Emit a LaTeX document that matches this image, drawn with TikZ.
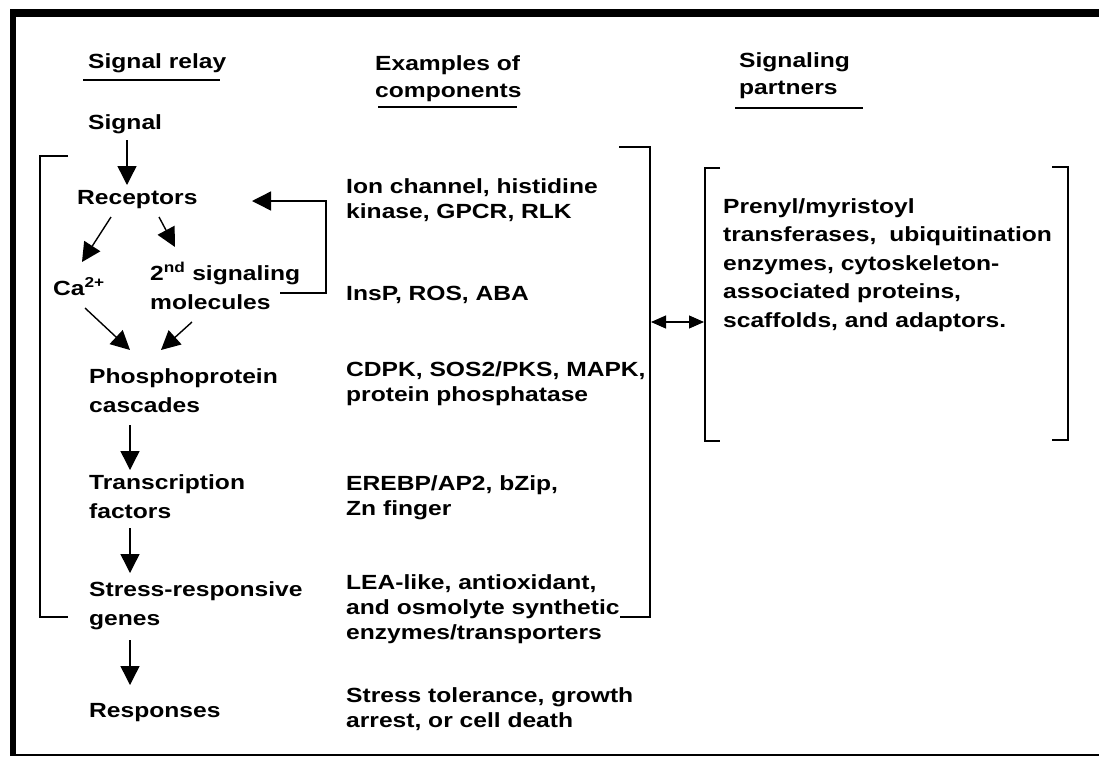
\documentclass[tikz,border=0pt]{standalone}
\usepackage{fontspec}
\setmainfont{Liberation Sans}[FakeStretch=1.2]
\usetikzlibrary{arrows.meta}
\begin{document}
\begin{tikzpicture}[x=1pt,y=-1pt,
  txt/.style={anchor=base west, inner sep=0pt, font=\bfseries\fontsize{20.5}{29}\selectfont},
  txtr/.style={anchor=base west, inner sep=0pt, font=\bfseries\fontsize{20.5}{25}\selectfont},
  txth/.style={anchor=base west, inner sep=0pt, font=\bfseries\fontsize{20.5}{27.5}\selectfont},
  arr/.style={line width=1.4pt, -{Triangle[length=19pt,width=19pt]}},
  dblarr/.style={line width=1.1pt, {Triangle[length=15pt,width=13pt]}-{Triangle[length=15pt,width=13pt]}},
  uline/.style={line width=1.8pt},
  brk/.style={line width=2pt}]
\useasboundingbox (0,0) rectangle (1099,756);
% frame
\fill (10,9) rectangle (1099,17);
\fill (10,9) rectangle (16,756);
\fill (10,753.5) rectangle (1099,756);
% headers
\node[txt] (h1) at (88,68) {Signal relay};
\node[txth] (h2) at (375,70) {\vtop{\hbox{Examples of}\hbox{components}}};
\node[txth] (h3) at (739,67) {\vtop{\hbox{Signaling}\hbox{partners}}};
\draw[uline] ([shift={(-5,12)}]h1.base west) -- ([shift={(132,12)}]h1.base west);
\draw[uline] ([shift={(3,37)}]h2.base west) -- ([shift={(142,37)}]h2.base west);
\draw[uline] ([shift={(-4,41)}]h3.base west) -- ([shift={(124,41)}]h3.base west);
% left column
\node[txt] (sig) at (88,129) {Signal};
\node[txt] (rec) at (77,204) {Receptors};
\node[txt] (ca) at (53,295) {Ca\textsuperscript{2+}};
\node[txt] (snd) at (150,280) {\vtop{\hbox{2\textsuperscript{nd} signaling}\hbox{molecules}}};
\node[txt] (pho) at (89,383) {\vtop{\hbox{Phosphoprotein}\hbox{cascades}}};
\node[txt] (tf) at (89,489) {\vtop{\hbox{Transcription}\hbox{factors}}};
\node[txt] (srg) at (89,596) {\vtop{\hbox{Stress-responsive}\hbox{genes}}};
\node[txt] (resp) at (89,717) {Responses};
% middle column
\node[txtr] (c1) at (346,193) {\vtop{\hbox{Ion channel, histidine}\hbox{kinase, GPCR, RLK}}};
\node[txtr] (c2) at (346,300) {InsP, ROS, ABA};
\node[txtr] (c3) at (346,376) {\vtop{\hbox{CDPK, SOS2/PKS, MAPK,}\hbox{protein phosphatase}}};
\node[txtr] (c4) at (346,490) {\vtop{\hbox{EREBP/AP2, bZip,}\hbox{Zn finger}}};
\node[txtr] (c5) at (346,589) {\vtop{\hbox{LEA-like, antioxidant,}\hbox{and osmolyte synthetic}\hbox{enzymes/transporters}}};
\node[txtr] (c6) at (346,702) {\vtop{\hbox{Stress tolerance, growth}\hbox{arrest, or cell death}}};
% partners
\node[txt, font=\bfseries\fontsize{20.5}{28.5}\selectfont] (part) at (723,213) {\vtop{\hbox{Prenyl/myristoyl}\hbox{transferases,\hspace{13pt}ubiquitination}\hbox{enzymes, cytoskeleton-}\hbox{associated proteins,}\hbox{scaffolds, and adaptors.}}};
% arrows
\draw[arr] ([shift={(39,11)}]sig.base west) -- ([shift={(50,-19)}]rec.base west);
\draw[arr] ([shift={(34,13)}]rec.base west) -- ([shift={(29,-33)}]ca.base west);
\draw[arr] ([shift={(82,13)}]rec.base west) -- ([shift={(25,-33)}]snd.base west);
\draw[arr] ([shift={(32,13)}]ca.base west) -- ([shift={(41,-33)}]pho.base west);
\draw[arr] ([shift={(42,42)}]snd.base west) -- ([shift={(72,-33)}]pho.base west);
\draw[arr] ([shift={(130,13)}]snd.base west) -- ++(46,0) |- ([shift={(175,-3)}]rec.base west);
\draw[arr] ([shift={(41,42)}]pho.base west) -- ([shift={(41,-19)}]tf.base west);
\draw[arr] ([shift={(41,39)}]tf.base west) -- ([shift={(41,-23)}]srg.base west);
\draw[arr] ([shift={(41,44)}]srg.base west) -- ([shift={(41,-32)}]resp.base west);
% brackets
\draw[brk] (68,156) -- (40,156) -- (40,617) -- (68,617);
\draw[brk] (619,147) -- (650,147) -- (650,617) -- (620,617);
\draw[brk] (720,168) -- (705,168) -- (705,441) -- (720,441);
\draw[brk] (1052,167) -- (1068,167) -- (1068,440) -- (1052,440);
\coordinate (mb) at (651,322);
\coordinate (pb) at (704,322);
\draw[dblarr] (mb) -- (pb);
\end{tikzpicture}
\end{document}
